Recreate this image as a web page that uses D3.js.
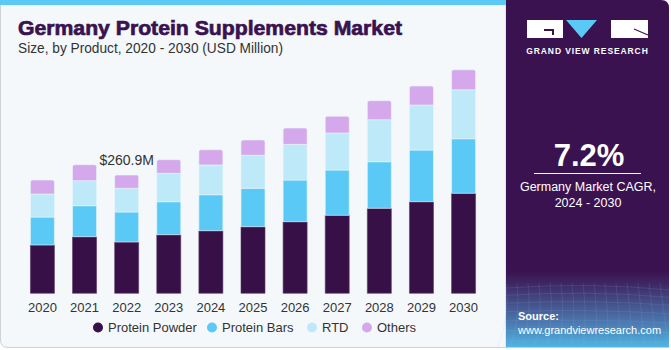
<!DOCTYPE html>
<html><head><meta charset="utf-8">
<script src="https://cdn.jsdelivr.net/npm/d3@7"></script>
<style>html,body{margin:0;padding:0;background:#fff;}svg{display:block;font-family:"Liberation Sans",Arial,sans-serif;}</style>
</head><body>
<script>
const years = ["2020","2021","2022","2023","2024","2025","2026","2027","2028","2029","2030"];
const proteinPowder = [106.5,124.8,113.1,129.2,138.0,146.9,157.9,172.0,187.4,202.0,220.5];
const proteinBars   = [61.7,68.4,66.2,72.8,79.4,84.7,91.9,99.9,102.8,114.0,120.4];
const rtd           = [50.7,55.1,52.3,62.6,65.5,72.8,78.7,81.6,92.6,99.2,108.0];
const others        = [30.9,35.3,29.3,30.0,33.7,33.7,35.9,36.8,41.9,41.9,44.1];
const seriesNames = ["Protein Powder","Protein Bars","RTD","Others"];
const seriesColors = ["#371048","#5bc9f5","#bde9f8","#d4a8eb"];
const annotation = {year:"2022", text:"$260.9M"};

const W=671,H=350;
const svg=d3.select("body").append("svg").attr("width",W).attr("height",H);
const defs=svg.append("defs");

// left panel
svg.append("path").attr("d","M0.5,0 H506 V347.5 H8 Q0.5,347.5 0.5,340 Z")
  .attr("fill","#f4f8fb").attr("stroke","#cfd3d6").attr("stroke-width",1);
svg.append("rect").attr("x",0).attr("y",0).attr("width",506).attr("height",5).attr("fill","#5bc9f5");

// right panel
const g1=defs.append("linearGradient").attr("id","rg").attr("x1",0).attr("y1",0).attr("x2",0).attr("y2",1);
g1.append("stop").attr("offset","0").attr("stop-color","#3a1250");
g1.append("stop").attr("offset","0.78").attr("stop-color","#3a1250");
g1.append("stop").attr("offset","0.82").attr("stop-color","#3e2a66");
g1.append("stop").attr("offset","0.92").attr("stop-color","#4a72aa");
g1.append("stop").attr("offset","1").attr("stop-color","#4fb6e4");
svg.append("path").attr("d","M506,0 H661 Q669,0 669,8 V347.5 H506 Z").attr("fill","url(#rg)");
const grid=svg.append("g").attr("stroke","#9fb8e0").attr("stroke-opacity",0.22).attr("stroke-width",0.6).attr("fill","none");
for(let i=0;i<9;i++){const y=288+i*7+i*i*0.3;grid.append("path").attr("d",`M506,${y} Q590,${y-6+i} 669,${y+2}`);}
for(let i=0;i<16;i++){const x=506+i*11;grid.append("path").attr("d",`M${x},283 Q${x+4},315 ${x-8+i*1.2},347`);}

// logo
svg.append("rect").attr("x",527).attr("y",20).attr("width",36).attr("height",18).attr("fill","#fff");
svg.append("path").attr("d","M544,31 V29 H554 V35 H552 V31 Z").attr("fill","#3a1250");
svg.append("path").attr("d","M566,20 H597 L581.5,38 Z").attr("fill","#5bc9f5");
svg.append("rect").attr("x",611).attr("y",20).attr("width",37).attr("height",18).attr("fill","#fff");
svg.append("path").attr("d","M634,29 L648,35").attr("stroke","#3a1250").attr("stroke-width",1.2);
svg.append("text").attr("x",587.5).attr("y",54).attr("text-anchor","middle").attr("fill","#fff")
  .attr("font-size",8.5).attr("font-weight","bold").attr("letter-spacing",0.9).text("GRAND VIEW RESEARCH");

svg.append("text").attr("x",589).attr("y",166).attr("text-anchor","middle").attr("fill","#fff")
  .attr("font-size",31).attr("font-weight","bold").text("7.2%");
svg.append("line").attr("x1",534).attr("x2",641).attr("y1",173.5).attr("y2",173.5).attr("stroke","#fff").attr("stroke-width",1);
svg.append("text").attr("x",588).attr("y",191).attr("text-anchor","middle").attr("fill","#fff").attr("font-size",12.5).text("Germany Market CAGR,");
svg.append("text").attr("x",588).attr("y",207).attr("text-anchor","middle").attr("fill","#fff").attr("font-size",12.5).text("2024 - 2030");
svg.append("text").attr("x",518).attr("y",320).attr("fill","#fff").attr("font-size",11).attr("font-weight","bold").text("Source:");
svg.append("text").attr("x",518).attr("y",334).attr("fill","#fff").attr("font-size",11).text("www.grandviewresearch.com");

// title
svg.append("text").attr("x",18).attr("y",35).attr("fill","#3a1250").attr("stroke","#3a1250").attr("stroke-width",0.7)
  .attr("font-size",21).attr("font-weight","bold")
  .attr("textLength",384).attr("lengthAdjust","spacingAndGlyphs").text("Germany Protein Supplements Market");
svg.append("text").attr("x",18).attr("y",53).attr("fill","#333").attr("font-size",14)
  .attr("textLength",265).attr("lengthAdjust","spacingAndGlyphs").text("Size, by Product, 2020 - 2030 (USD Million)");

// chart
const data=years.map((y,i)=>({year:y,"Protein Powder":proteinPowder[i],"Protein Bars":proteinBars[i],"RTD":rtd[i],"Others":others[i]}));
const stack=d3.stack().keys(seriesNames)(data);
const x=d3.scaleBand().domain(years).range([22,484]).paddingInner(0.43).paddingOuter(0.2);
const y=d3.scaleLinear().domain([0,260.9]).range([293.3,175]);
const color=d3.scaleOrdinal().domain(seriesNames).range(seriesColors);

const bars=svg.append("g");
stack.forEach((s,si)=>{
  bars.selectAll(null).data(s).join("path")
    .attr("fill",color(s.key))
    .attr("stroke",si===0?"#5a3a6a":"#eaf6fc").attr("stroke-width",0.6)
    .attr("d",d=>{
      const x0=x(d.data.year),w=x.bandwidth(),y0=y(d[0]),y1=y(d[1]);
      if(si===seriesNames.length-1){const r=2;return `M${x0},${y0} V${y1+r} Q${x0},${y1} ${x0+r},${y1} H${x0+w-r} Q${x0+w},${y1} ${x0+w},${y1+r} V${y0} Z`;}
      return `M${x0},${y0} V${y1} H${x0+w} V${y0} Z`;
    });
});

const xAxis=svg.append("g").attr("transform","translate(0,293.3)")
  .call(d3.axisBottom(x).tickSize(0).tickPadding(9));
xAxis.select(".domain").remove();
xAxis.selectAll("text").attr("font-size",13).attr("fill","#333").attr("font-family","Liberation Sans, Arial, sans-serif");

const annIdx=years.indexOf(annotation.year);
const annTotal=proteinPowder[annIdx]+proteinBars[annIdx]+rtd[annIdx]+others[annIdx];
svg.append("text").attr("x",x(annotation.year)+x.bandwidth()/2).attr("y",y(annTotal)-10)
  .attr("text-anchor","middle").attr("font-size",14).attr("fill","#333").text(annotation.text);

// legend
const legX=[98,212,312,367];
const leg=svg.append("g");
seriesNames.forEach((n,i)=>{
  leg.append("circle").attr("cx",legX[i]).attr("cy",327.5).attr("r",5).attr("fill",seriesColors[i]);
  leg.append("text").attr("x",legX[i]+10).attr("y",332).attr("font-size",13).attr("fill","#333").text(n);
});
</script>
</body></html>
